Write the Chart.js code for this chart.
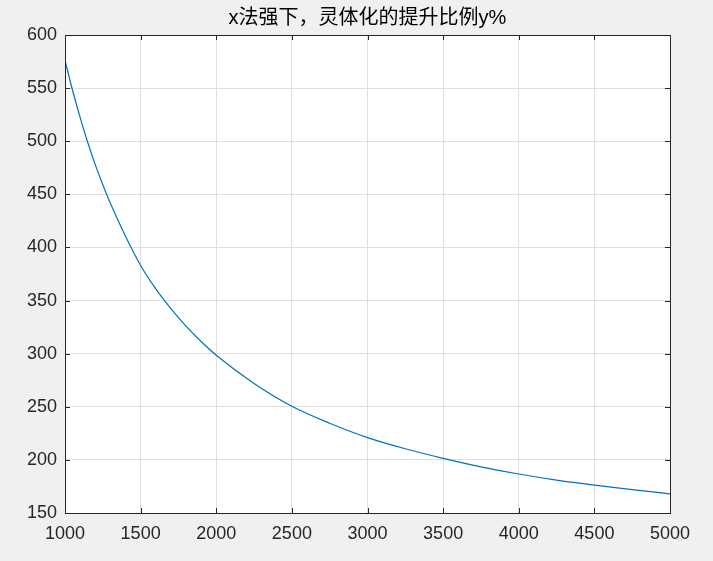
<!DOCTYPE html>
<html>
<head>
<meta charset="utf-8">
<script src="https://cdn.jsdelivr.net/npm/chart.js@4/dist/chart.umd.min.js"></script>
<style>
  html, body { margin: 0; padding: 0; background: #f0f0f0; }
  #wrap { width: 713px; height: 561px; }
</style>
</head>
<body>
<div id="wrap"><canvas id="c" width="713" height="561"></canvas></div>
<script>
const titleText = 'x法强下，灵体化的提升比例y%';

// values
const xValues = [1000, 1050, 1100, 1150, 1200, 1250, 1300, 1400, 1500, 1600, 1700, 1800, 1900, 2000,
  2250, 2500, 2750, 3000, 3250, 3500, 3750, 4000, 4250, 4500, 4750, 5000];
const yValues = [576, 548, 522.5, 499, 478, 459, 441.5, 410.5, 383, 361, 342.5, 326, 311.5, 298.5,
  272, 250.5, 234.5, 221, 210.5, 201.5, 193.5, 186.7, 181, 176.3, 172, 168];

const xTicks = [1000, 1500, 2000, 2500, 3000, 3500, 4000, 4500, 5000];
const yTicks = [150, 200, 250, 300, 350, 400, 450, 500, 550, 600];

const axisColor = '#262626';
const fontFamily = '"Liberation Sans", Arial, "Noto Sans CJK SC", sans-serif';

// white plot box, border, inward ticks and the title
const boxPlugin = {
  id: 'box',
  beforeDraw(chart) {
    const { ctx, chartArea: a } = chart;
    ctx.save();
    ctx.fillStyle = '#ffffff';
    ctx.fillRect(a.left, a.top, a.right - a.left, a.bottom - a.top);
    ctx.restore();
  },
  afterDraw(chart) {
    const { ctx, chartArea: a, scales } = chart;
    const len = 5;
    ctx.save();
    ctx.strokeStyle = axisColor;
    ctx.lineWidth = 1;
    ctx.beginPath();
    xTicks.forEach(v => {
      const px = Math.round(scales.x.getPixelForValue(v)) + 0.5;
      ctx.moveTo(px, a.bottom); ctx.lineTo(px, a.bottom - len);
      ctx.moveTo(px, a.top); ctx.lineTo(px, a.top + len);
    });
    yTicks.forEach(v => {
      const py = Math.round(scales.y.getPixelForValue(v)) + 0.5;
      ctx.moveTo(a.left, py); ctx.lineTo(a.left + len, py);
      ctx.moveTo(a.right, py); ctx.lineTo(a.right - len, py);
    });
    ctx.stroke();
    ctx.strokeRect(Math.round(a.left) + 0.5, Math.round(a.top) + 0.5,
      Math.round(a.right - a.left), Math.round(a.bottom - a.top));

    ctx.fillStyle = '#000000';
    ctx.font = '20px ' + fontFamily;
    ctx.textAlign = 'center';
    ctx.textBaseline = 'middle';
    ctx.fillText(titleText, (a.left + a.right) / 2, 18);
    ctx.restore();
  }
};

new Chart(document.getElementById('c').getContext('2d'), {
  type: 'line',
  data: {
    datasets: [{
      data: xValues.map((x, i) => ({ x: x, y: yValues[i] })),
      borderColor: '#0072BD',
      borderWidth: 1.2,
      pointRadius: 0,
      cubicInterpolationMode: 'monotone',
      fill: false,
    }],
  },
  plugins: [boxPlugin],
  options: {
    responsive: false,
    animation: false,
    layout: { padding: { top: 35, right: 43, left: 0, bottom: 0 } },
    plugins: {
      legend: { display: false },
      title: { display: false },
      tooltip: { enabled: false },
    },
    scales: {
      x: {
        type: 'linear',
        min: 1000,
        max: 5000,
        afterBuildTicks: s => { s.ticks = xTicks.map(v => ({ value: v })); },
        afterFit: s => { s.height = 48; },
        grid: { color: '#dfdfdf', drawTicks: false },
        border: { display: false },
        ticks: {
          color: axisColor,
          padding: 10,
          maxRotation: 0,
          autoSkip: false,
          callback: v => String(v),
          font: { family: fontFamily, size: 18 },
        },
      },
      y: {
        min: 150,
        max: 600,
        afterBuildTicks: s => { s.ticks = yTicks.map(v => ({ value: v })); },
        afterFit: s => { s.width = 65; },
        grid: { color: '#dfdfdf', drawTicks: false },
        border: { display: false },
        ticks: {
          color: axisColor,
          padding: 8,
          autoSkip: false,
          callback: v => String(v),
          font: { family: fontFamily, size: 18 },
        },
      },
    },
  },
});
</script>
</body>
</html>
